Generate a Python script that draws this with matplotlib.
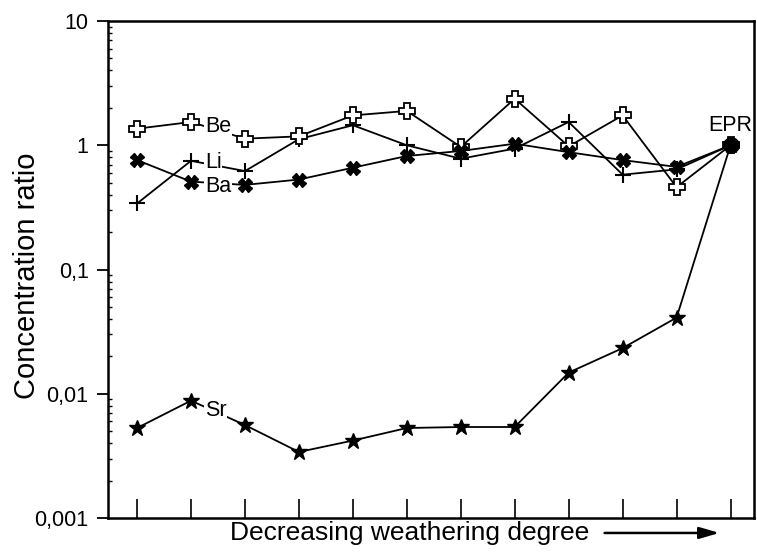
import numpy as np
import matplotlib
matplotlib.use('Agg')
import matplotlib.pyplot as plt
from matplotlib import font_manager
from matplotlib.ticker import LogLocator, FixedFormatter, FixedLocator, NullFormatter

plt.rcParams['font.family'] = ['Liberation Sans', 'DejaVu Sans']

# samples ordered by decreasing weathering degree, last one is EPR
samples = list(range(1, 13))
be = [1.36, 1.54, 1.13, 1.18, 1.74, 1.89, 0.97, 2.37, 0.98, 1.74, 0.46, 1.0]
li = [0.34, 0.75, 0.62, 1.12, 1.45, 1.0, 0.78, 0.94, 1.54, 0.58, 0.64, 1.0]
ba = [0.76, 0.51, 0.48, 0.53, 0.66, 0.82, 0.90, 1.03, 0.88, 0.76, 0.67, 1.0]
sr = [0.0053, 0.0088, 0.0056, 0.0034, 0.0042, 0.0053, 0.0054, 0.0054,
      0.0148, 0.0233, 0.041, 1.0]
ytick_vals = [0.001, 0.01, 0.1, 1, 10]
ytick_labels = ['0,001', '0,01', '0,1', '1', '10']

# narrow font for the x label if there is one
names = set(f.name for f in font_manager.fontManager.ttflist)
if 'Liberation Sans Narrow' in names:
    xfont, xsize = 'Liberation Sans Narrow', 23
else:
    xfont, xsize = 'Liberation Sans', 19

fig = plt.figure(figsize=(7.57, 5.54), dpi=100)
ax = fig.add_axes([0.1427, 0.065, 0.8534, 0.897])

lw = 1.3
ax.plot(samples, li, 'k-', lw=lw, marker='+', ms=11, mew=1.5, zorder=3)
ax.plot(samples, be, 'k-', lw=lw, marker='P', ms=12, mfc='white', mec='k', mew=1.3, zorder=4)
ax.plot(samples, ba, 'k-', lw=lw, marker='X', ms=10, mfc='k', mec='k', zorder=4)
ax.plot(samples, sr, 'k-', lw=lw, marker='*', ms=12, mfc='k', mec='k', zorder=4)
ax.plot(samples[-1], be[-1], 'ko', ms=11, zorder=5)

fs = 15.5
txt = dict(fontsize=fs, va='center', ha='left', zorder=6,
           bbox=dict(facecolor='white', edgecolor='none', pad=0.5))
ax.annotate('Be', (samples[1], be[1]), xytext=(10, -3), textcoords='offset points', **txt)
ax.annotate('Li', (samples[1], li[1]), xytext=(10, -1), textcoords='offset points', **txt)
ax.annotate('Ba', (samples[1], ba[1]), xytext=(10, -3.5), textcoords='offset points', **txt)
ax.annotate('Sr', (samples[1], sr[1]), xytext=(10, -7), textcoords='offset points', **txt)
ax.annotate('EPR', (samples[-1], be[-1]), xytext=(0, 14), textcoords='offset points',
            fontsize=fs, ha='center', va='center')

ax.set_yscale('log')
ax.set_ylim(0.001, 10)
ax.set_xlim(0.462, 12.436)

ax.yaxis.set_major_locator(FixedLocator(ytick_vals))
ax.yaxis.set_major_formatter(FixedFormatter(ytick_labels))
ax.yaxis.set_minor_locator(LogLocator(base=10, subs=np.arange(2, 10)))
ax.yaxis.set_minor_formatter(NullFormatter())
ax.tick_params(axis='y', which='major', direction='out', length=8, width=1.3, labelsize=15.5, pad=6)
ax.tick_params(axis='y', which='minor', direction='in', length=3, width=1)

ax.set_xticks(samples)
ax.set_xticklabels([])
ax.tick_params(axis='x', which='major', direction='in', length=14, width=1.2)

for s in ax.spines.values():
    s.set_linewidth(1.8)

ax.set_ylabel('Concentration ratio', fontsize=21, va='center')
ax.yaxis.set_label_coords(-0.126, 0.487)
fig.text(0.5416, 0.038, 'Decreasing weathering degree', fontsize=xsize, family=xfont,
         ha='center', va='center')
ax.annotate('', xy=(0.954, 0.038), xytext=(0.795, 0.038), xycoords='figure fraction',
            textcoords='figure fraction',
            arrowprops=dict(arrowstyle='-|>,head_length=1.2,head_width=0.35', color='k', lw=1.8))

fig.savefig('out.png', dpi=100)
